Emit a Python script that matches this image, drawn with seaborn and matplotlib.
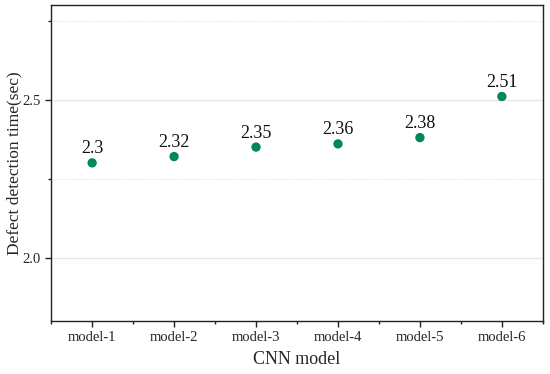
import numpy as np
import pandas as pd
import seaborn as sns
import matplotlib
matplotlib.use('Agg')
import matplotlib.pyplot as plt
from matplotlib.ticker import FixedLocator

models = ['model-1', 'model-2', 'model-3', 'model-4', 'model-5', 'model-6']
times = [2.30, 2.32, 2.35, 2.36, 2.38, 2.51]
labels = ['2.3', '2.32', '2.35', '2.36', '2.38', '2.51']

df = pd.DataFrame({'model': models, 'time': times})

sns.set_style('white')
plt.rcParams['font.family'] = ['Liberation Serif', 'DejaVu Serif']

fig = plt.figure(figsize=(5.5, 3.74), dpi=100)
ax = fig.add_axes([0.093, 0.142, 0.894, 0.845])

sns.scatterplot(data=df, x='model', y='time', ax=ax, color='#00875a',
                s=45, edgecolor='none', zorder=3)

# value labels above each point
for i, (t, lab) in enumerate(zip(times, labels)):
    ax.annotate(lab, (i, t), xytext=(0, 4), textcoords='offset points',
                ha='center', va='bottom', fontsize=13, color='#111111')

ax.set_xlim(-0.5, 5.5)
ax.set_ylim(1.8, 2.8)
ax.yaxis.set_major_locator(FixedLocator([2.0, 2.5]))
ax.yaxis.set_minor_locator(FixedLocator([2.25, 2.75]))
ax.xaxis.set_minor_locator(FixedLocator(np.arange(-0.5, 6, 1.0)))

ax.grid(axis='y', which='major', color='#e6e6e6', linewidth=1.0, linestyle='-')
ax.grid(axis='y', which='minor', color='#dcdcdc', linewidth=0.8, linestyle=':')
ax.set_axisbelow(True)

for sp in ax.spines.values():
    sp.set_color('#222222')
    sp.set_linewidth(1.0)

ax.tick_params(axis='both', which='major', direction='out', length=4,
               width=1.0, color='#222222', labelsize=10.5, left=True, bottom=True)
ax.tick_params(axis='both', which='minor', direction='out', length=2.5,
               width=1.0, color='#222222', left=True, bottom=True)

ax.set_xlabel('CNN model', fontsize=13, labelpad=5)
ax.set_ylabel('Defect detection time(sec)', fontsize=12.5, va='center')
ax.yaxis.set_label_coords(-0.074, 0.5)

fig.savefig('out.png', dpi=100)
